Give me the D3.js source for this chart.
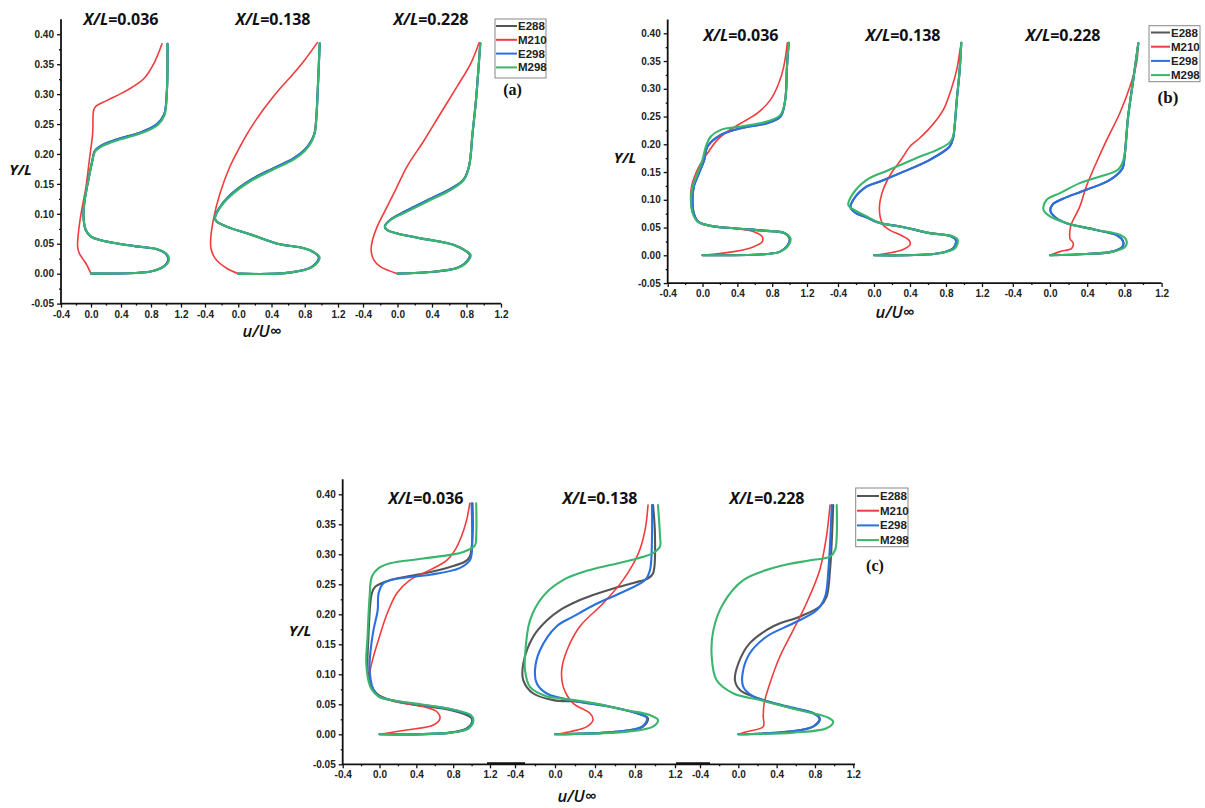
<!DOCTYPE html>
<html><head><meta charset="utf-8">
<script src="https://cdn.jsdelivr.net/npm/d3@7"></script>
<style>body{margin:0;background:#fff} svg{display:block}</style>
</head><body><svg id="c" width="1205" height="808"></svg>
<script>
// ---------- names / ticks ----------
const SERIES = ["E288", "M210", "E298", "M298"];
const COLORS = ["#555555", "#f03c3c", "#2a70e0", "#3ab56c"];
const STATIONS = ["0.036", "0.138", "0.228"];
const PANEL_TAGS = ["(a)", "(b)", "(c)"];
const X_TICKS = [-0.4, 0, 0.4, 0.8, 1.2];
const X_MINOR = [-0.2, 0.2, 0.6, 1.0];
const Y_TICKS = [-0.05, 0, 0.05, 0.10, 0.15, 0.20, 0.25, 0.30, 0.35, 0.40];
const Y_MINOR = [-0.025, 0.025, 0.075, 0.125, 0.175, 0.225, 0.275, 0.325, 0.375, 0.425];

// ---------- data: [u/Uinf, Y/L] ----------
// panel (a)
const A1_M210 = [[0,0],[-0.067,0.017],[-0.156,0.034],[-0.178,0.045],[-0.169,0.067],[-0.133,0.1],[-0.067,0.145],[-0.022,0.19],[0.022,0.2345],[0.036,0.2735],[0.067,0.28],[0.222,0.29],[0.49,0.307],[0.71,0.3265],[0.84,0.3515],[0.947,0.384]];
const A1_E298 = [[0,0],[0.78,0.0033],[0.93,0.009],[1.01,0.017],[1.03,0.026],[0.99,0.034],[0.88,0.041],[0.58,0.046],[0.13,0.056],[0.0,0.062],[-0.07,0.073],[-0.1,0.095],[-0.09,0.118],[-0.035,0.157],[0.02,0.19],[0.05,0.205],[0.13,0.2135],[0.35,0.2245],[0.66,0.236],[0.88,0.25],[0.975,0.266],[1.01,0.301],[1.02,0.346],[1.02,0.384]];
const A1_E288 = A1_E298;
const A1_M298 = [[0,0],[0.78,0.0033],[0.93,0.009],[1.02,0.017],[1.04,0.026],[1.0,0.034],[0.89,0.041],[0.58,0.046],[0.13,0.056],[0.0,0.062],[-0.07,0.073],[-0.1,0.095],[-0.09,0.118],[-0.035,0.157],[0.02,0.19],[0.053,0.204],[0.133,0.212],[0.356,0.223],[0.667,0.2345],[0.89,0.2485],[0.98,0.265],[1.01,0.301],[1.02,0.346],[1.02,0.384]];

const A2_M210 = [[0,0],[-0.14,0.009],[-0.28,0.026],[-0.328,0.042],[-0.332,0.056],[-0.3,0.09],[-0.22,0.134],[-0.1,0.179],[0.02,0.212],[0.1,0.232],[0.2,0.254],[0.3,0.274],[0.4,0.292],[0.5,0.309],[0.65,0.332],[0.8,0.357],[0.95,0.386]];
const A2_E298 = [[0,0],[0.62,0.0017],[0.89,0.0117],[0.97,0.027],[0.89,0.037],[0.74,0.044],[0.5,0.049],[0.14,0.066],[-0.14,0.0786],[-0.26,0.087],[-0.28,0.0925],[-0.24,0.107],[-0.1,0.131],[0.14,0.156],[0.42,0.176],[0.66,0.192],[0.8,0.207],[0.88,0.222],[0.92,0.236],[0.94,0.262],[0.96,0.318],[0.98,0.385]];
const A2_E288 = A2_E298;
const A2_M298 = [[0,0],[0.62,0.0017],[0.9,0.0117],[0.98,0.027],[0.9,0.037],[0.74,0.044],[0.5,0.049],[0.14,0.066],[-0.14,0.0786],[-0.26,0.087],[-0.28,0.0925],[-0.24,0.106],[-0.1,0.129],[0.14,0.154],[0.42,0.174],[0.66,0.19],[0.8,0.205],[0.88,0.22],[0.92,0.2345],[0.94,0.262],[0.96,0.318],[0.98,0.385]];

const A3_M210 = [[0,0],[-0.2,0.0117],[-0.275,0.023],[-0.306,0.0396],[-0.29,0.056],[-0.236,0.0786],[-0.16,0.1008],[-0.043,0.134],[0.11,0.179],[0.31,0.223],[0.5,0.268],[0.69,0.3125],[0.85,0.3515],[0.946,0.386]];
const A3_E298 = [[0,0],[0.42,0.0033],[0.68,0.009],[0.78,0.017],[0.84,0.031],[0.8,0.037],[0.655,0.048],[0.27,0.059],[0.0,0.067],[-0.12,0.073],[-0.147,0.0786],[-0.08,0.0905],[0.11,0.1055],[0.38,0.125],[0.62,0.142],[0.77,0.158],[0.83,0.18],[0.87,0.2345],[0.91,0.29],[0.96,0.385]];
const A3_E288 = A3_E298;
const A3_M298 = [[0,0],[0.42,0.0033],[0.69,0.009],[0.79,0.017],[0.85,0.031],[0.81,0.037],[0.655,0.048],[0.27,0.059],[0.0,0.067],[-0.12,0.073],[-0.147,0.0786],[-0.08,0.0897],[0.11,0.1036],[0.38,0.123],[0.62,0.14],[0.77,0.1566],[0.83,0.179],[0.87,0.2345],[0.91,0.29],[0.96,0.385]];

// panel (b)
const B1_M210 = [[0,0],[0.36,0.0066],[0.59,0.0156],[0.686,0.0246],[0.686,0.0336],[0.59,0.0426],[0.36,0.0486],[0.095,0.053],[-0.02,0.0577],[-0.095,0.07],[-0.133,0.094],[-0.126,0.124],[-0.076,0.148],[-0.02,0.166],[0.057,0.184],[0.17,0.208],[0.286,0.223],[0.44,0.238],[0.63,0.256],[0.78,0.28],[0.876,0.31],[0.933,0.34],[0.975,0.383]];
const B1_E298 = [[0,0],[0.74,0.0024],[0.89,0.0066],[0.98,0.0186],[1.0,0.0306],[0.94,0.04],[0.7,0.0444],[0.36,0.0486],[0.095,0.053],[-0.05,0.0607],[-0.1,0.0757],[-0.115,0.1],[-0.1,0.124],[-0.04,0.148],[0.02,0.172],[0.057,0.196],[0.21,0.217],[0.44,0.229],[0.74,0.238],[0.895,0.25],[0.95,0.28],[0.97,0.34],[0.99,0.383]];
const B1_E288 = B1_E298;
const B1_M298 = [[0,0],[0.74,0.0024],[0.895,0.0066],[0.99,0.0186],[1.01,0.0306],[0.95,0.04],[0.705,0.0444],[0.36,0.0486],[0.095,0.053],[-0.057,0.0607],[-0.114,0.0757],[-0.133,0.1],[-0.114,0.124],[-0.057,0.148],[0.0,0.172],[0.038,0.196],[0.095,0.214],[0.21,0.226],[0.44,0.232],[0.74,0.241],[0.895,0.253],[0.95,0.28],[0.97,0.34],[0.99,0.383]];

const B2_M210 = [[0,0],[0.2,0.005],[0.33,0.011],[0.4,0.019],[0.39,0.027],[0.3,0.036],[0.18,0.045],[0.1,0.055],[0.07,0.068],[0.06,0.085],[0.07,0.1],[0.11,0.122],[0.2,0.15],[0.3,0.172],[0.4,0.196],[0.5,0.21],[0.6,0.226],[0.7,0.245],[0.78,0.265],[0.86,0.3],[0.92,0.335],[0.956,0.37],[0.97,0.383]];
const B2_E298 = [[0,0],[0.72,0.0036],[0.88,0.0126],[0.91,0.027],[0.86,0.034],[0.62,0.04],[0.29,0.052],[0.067,0.058],[-0.08,0.068],[-0.2,0.076],[-0.26,0.086],[-0.23,0.1],[-0.08,0.124],[0.067,0.133],[0.29,0.148],[0.62,0.172],[0.84,0.196],[0.88,0.212],[0.9,0.24],[0.92,0.28],[0.95,0.33],[0.97,0.383]];
const B2_E288 = B2_E298;
const B2_M298 = [[0,0],[0.73,0.0036],[0.9,0.0126],[0.93,0.028],[0.88,0.034],[0.62,0.04],[0.29,0.052],[0.067,0.058],[-0.08,0.07],[-0.2,0.08],[-0.285,0.0907],[-0.23,0.112],[-0.08,0.136],[0.14,0.152],[0.3,0.163],[0.5,0.177],[0.7,0.19],[0.84,0.203],[0.88,0.215],[0.9,0.24],[0.92,0.28],[0.95,0.33],[0.97,0.383]];

const B3_M210 = [[0,0],[0.107,0.0066],[0.233,0.0126],[0.25,0.0216],[0.215,0.03],[0.215,0.0456],[0.233,0.0577],[0.32,0.0877],[0.39,0.124],[0.48,0.16],[0.61,0.208],[0.75,0.256],[0.86,0.304],[0.93,0.346],[0.95,0.382]];
const B3_E298 = [[0,0],[0.39,0.0024],[0.67,0.0066],[0.78,0.0156],[0.785,0.0256],[0.72,0.036],[0.5,0.0456],[0.18,0.0577],[0.06,0.068],[0.005,0.08],[0.03,0.092],[0.14,0.102],[0.39,0.118],[0.645,0.136],[0.78,0.157],[0.8,0.175],[0.84,0.25],[0.89,0.31],[0.95,0.382]];
const B3_E288 = B3_E298;
const B3_M298 = [[0,0],[0.39,0.0024],[0.68,0.0066],[0.81,0.0156],[0.82,0.0276],[0.75,0.037],[0.5,0.0456],[0.18,0.0577],[0.0,0.07],[-0.07,0.082],[-0.036,0.1],[0.107,0.112],[0.32,0.13],[0.54,0.142],[0.73,0.154],[0.79,0.172],[0.84,0.25],[0.89,0.31],[0.95,0.382]];

// panel (c)
const C1_E288 = [[0,0],[0.765,0.0028],[0.946,0.01],[1.0,0.0183],[1.0,0.0267],[0.946,0.032],[0.765,0.0406],[0.4,0.049],[0.115,0.057],[-0.03,0.068],[-0.1,0.085],[-0.13,0.107],[-0.12,0.163],[-0.1,0.218],[-0.083,0.235],[-0.047,0.246],[0.115,0.257],[0.477,0.268],[0.765,0.279],[0.93,0.288],[0.98,0.296],[1.01,0.33],[1.01,0.385]];
const C1_M210 = [[0,0],[0.296,0.0072],[0.585,0.0156],[0.657,0.0267],[0.62,0.038],[0.477,0.046],[0.188,0.054],[-0.03,0.066],[-0.1,0.082],[-0.108,0.1],[-0.065,0.13],[0.0,0.163],[0.08,0.2],[0.188,0.235],[0.33,0.257],[0.55,0.274],[0.73,0.29],[0.82,0.307],[0.89,0.33],[0.946,0.357],[0.98,0.385]];
const C1_E298 = [[0,0],[0.77,0.0028],[0.96,0.01],[1.01,0.021],[1.0,0.03],[0.95,0.034],[0.77,0.042],[0.4,0.05],[0.1,0.058],[0.007,0.062],[-0.065,0.074],[-0.108,0.107],[-0.1,0.135],[-0.065,0.174],[-0.02,0.207],[-0.01,0.235],[0.043,0.252],[0.224,0.26],[0.55,0.266],[0.87,0.277],[0.98,0.29],[1.0,0.3],[1.0,0.385]];
const C1_M298 = [[0,0],[0.78,0.0028],[0.97,0.01],[1.02,0.024],[0.99,0.032],[0.8,0.041],[0.45,0.05],[0.115,0.057],[-0.01,0.063],[-0.1,0.079],[-0.144,0.118],[-0.13,0.163],[-0.108,0.229],[-0.083,0.263],[-0.01,0.277],[0.115,0.285],[0.477,0.293],[0.91,0.304],[1.036,0.315],[1.05,0.33],[1.05,0.385]];

const C2_E288 = [[0,0],[0.6,0.004],[0.88,0.0128],[0.93,0.0267],[0.82,0.035],[0.55,0.046],[0.25,0.054],[-0.017,0.057],[-0.217,0.068],[-0.317,0.09],[-0.317,0.118],[-0.217,0.163],[-0.08,0.19],[0.05,0.207],[0.2,0.22],[0.38,0.232],[0.6,0.244],[0.8,0.253],[0.93,0.26],[0.98,0.268],[1.0,0.33],[0.98,0.382]];
const C2_M210 = [[0,0],[0.15,0.0044],[0.32,0.0128],[0.38,0.024],[0.35,0.035],[0.18,0.052],[0.083,0.079],[0.067,0.107],[0.12,0.14],[0.25,0.18],[0.48,0.218],[0.68,0.257],[0.83,0.3],[0.9,0.34],[0.93,0.382]];
const C2_E298 = [[0,0],[0.6,0.004],[0.87,0.0128],[0.92,0.0267],[0.82,0.035],[0.55,0.046],[0.25,0.054],[-0.083,0.068],[-0.183,0.085],[-0.2,0.107],[-0.15,0.14],[0.017,0.18],[0.18,0.196],[0.42,0.218],[0.65,0.235],[0.9,0.257],[0.95,0.274],[0.97,0.33],[0.97,0.382]];
const C2_M298 = [[0,0],[0.72,0.0044],[0.98,0.0128],[1.03,0.024],[0.95,0.032],[0.72,0.04],[0.38,0.052],[0.05,0.06],[-0.08,0.063],[-0.25,0.079],[-0.3,0.107],[-0.3,0.13],[-0.25,0.19],[-0.12,0.23],[0.08,0.257],[0.35,0.274],[0.55,0.282],[0.82,0.293],[0.98,0.302],[1.05,0.313],[1.05,0.33],[1.03,0.382]];

const C3_E288 = [[0,0],[0.5,0.004],[0.78,0.0128],[0.85,0.0267],[0.78,0.035],[0.5,0.046],[0.157,0.063],[0.017,0.074],[-0.035,0.09],[0.0,0.118],[0.12,0.152],[0.365,0.18],[0.64,0.196],[0.85,0.213],[0.92,0.229],[0.957,0.274],[0.99,0.382]];
const C3_M210 = [[0,0],[0.087,0.0044],[0.26,0.0128],[0.26,0.03],[0.27,0.052],[0.33,0.085],[0.435,0.13],[0.574,0.174],[0.71,0.218],[0.85,0.274],[0.92,0.33],[0.957,0.382]];
const C3_E298 = [[0,0],[0.5,0.004],[0.78,0.0128],[0.85,0.024],[0.8,0.034],[0.5,0.047],[0.157,0.063],[0.052,0.079],[0.045,0.102],[0.12,0.135],[0.296,0.163],[0.574,0.185],[0.82,0.207],[0.905,0.229],[0.94,0.274],[0.975,0.382]];
const C3_M298 = [[0,0],[0.574,0.0028],[0.92,0.01],[0.99,0.021],[0.92,0.029],[0.64,0.04],[0.226,0.057],[-0.05,0.068],[-0.226,0.09],[-0.278,0.13],[-0.26,0.174],[-0.157,0.218],[0.052,0.257],[0.4,0.279],[0.75,0.29],[0.957,0.296],[1.01,0.307],[1.027,0.33],[1.027,0.382]];

// per panel: station -> [E288, M210, E298, M298]
const PANEL_A = [[A1_E288, A1_M210, A1_E298, A1_M298], [A2_E288, A2_M210, A2_E298, A2_M298], [A3_E288, A3_M210, A3_E298, A3_M298]];
const PANEL_B = [[B1_E288, B1_M210, B1_E298, B1_M298], [B2_E288, B2_M210, B2_E298, B2_M298], [B3_E288, B3_M210, B3_E298, B3_M298]];
const PANEL_C = [[C1_E288, C1_M210, C1_E298, C1_M298], [C2_E288, C2_M210, C2_E298, C2_M298], [C3_E288, C3_M210, C3_E298, C3_M298]];

// ---------- layout ----------
const LAYOUT = [
  {data: PANEL_A, axisX: 61, yBot: 303.6, yTop: 19.3, segs: [[61,181],[205,338],[363,501]], axisEnd: 501,
   titleX: [121,273,431], titleY: 25, ylab: [20.5,175], xlab: [262,337],
   leg: {x:495, y:19, w:51, h:59, row0:26, dy:13.8, lx0:496, lx1:517, tx:518}, tag: [512.5,95,16], thick: []},
  {data: PANEL_B, axisX: 667.7, yBot: 283.05, yTop: 19.4, segs: [[667.7,807],[838,982],[1012.8,1161.6]], axisEnd: 1161.6,
   titleX: [741,903,1063], titleY: 40.7, ylab: [625,163], xlab: [895,318],
   leg: {x:1149, y:25.7, w:51, h:56, row0:32.5, dy:14.2, lx0:1151, lx1:1170, tx:1171}, tag: [1168,103,17], thick: []},
  {data: PANEL_C, axisX: 342.7, yBot: 764.3, yTop: 479.3, segs: [[342.7,490],[515,675],[700,853.3]], axisEnd: 855,
   titleX: [426,600,767], titleY: 504, ylab: [300,636], xlab: [577,801.5],
   leg: {x:855.7, y:488, w:52.3, h:58.7, row0:496, dy:14.7, lx0:857, lx1:879, tx:880}, tag: [875,571,16], thick: [[487,525],[676,710]]}
];

const svg = d3.select("#c");
const SANS = "'Liberation Sans', Arial, sans-serif";
const OPEN = "'Open Sans', 'DejaVu Sans', sans-serif";

LAYOUT.forEach((p, pi) => {
  const g = svg.append("g");
  const y = d3.scaleLinear().domain([-0.05, 0.425]).range([p.yBot, p.yTop]);

  // y axis
  const ya = g.append("g").attr("transform", `translate(${p.axisX},0)`)
    .call(d3.axisLeft(y).tickValues(Y_TICKS).tickFormat(d => d.toFixed(2)).tickSize(4).tickSizeOuter(0));
  const ym = g.append("g").attr("transform", `translate(${p.axisX},0)`)
    .call(d3.axisLeft(y).tickValues(Y_MINOR.filter(v => v < 0.42)).tickFormat("").tickSize(2).tickSizeOuter(0));
  [ya, ym].forEach(a => { a.select(".domain").remove(); a.selectAll("line").attr("stroke", "#111").attr("stroke-width", 1.3); });
  ya.selectAll("text").attr("font-family", SANS).attr("font-weight", "bold").attr("font-size", 10).attr("fill", "#222");

  // x axes per station
  const xs = p.segs.map(r => d3.scaleLinear().domain([-0.4, 1.2]).range(r));
  xs.forEach(x => {
    const xa = g.append("g").attr("transform", `translate(0,${p.yBot})`)
      .call(d3.axisBottom(x).tickValues(X_TICKS).tickFormat(d => d.toFixed(1)).tickSize(4).tickSizeOuter(0));
    const xm = g.append("g").attr("transform", `translate(0,${p.yBot})`)
      .call(d3.axisBottom(x).tickValues(X_MINOR).tickFormat("").tickSize(2).tickSizeOuter(0));
    [xa, xm].forEach(a => { a.select(".domain").remove(); a.selectAll("line").attr("stroke", "#111").attr("stroke-width", 1.3); });
    xa.selectAll("text").attr("font-family", SANS).attr("font-weight", "bold").attr("font-size", 10).attr("fill", "#222");
  });

  // axis lines
  g.append("line").attr("x1", p.axisX).attr("x2", p.axisX).attr("y1", p.yBot + 0.8).attr("y2", p.yTop)
    .attr("stroke", "#111").attr("stroke-width", 1.8);
  g.append("line").attr("x1", p.axisX).attr("x2", p.axisEnd).attr("y1", p.yBot).attr("y2", p.yBot)
    .attr("stroke", "#111").attr("stroke-width", 1.8);
  p.thick.forEach(t => g.append("line").attr("x1", t[0]).attr("x2", t[1]).attr("y1", p.yBot - 0.8).attr("y2", p.yBot - 0.8)
    .attr("stroke", "#111").attr("stroke-width", 2.6));

  // curves
  p.data.forEach((station, si) => {
    const x = xs[si];
    const line = d3.line().x(d => x(d[0])).y(d => y(d[1])).curve(d3.curveCatmullRom.alpha(0.5));
    station.forEach((pts, k) => {
      g.append("path").attr("d", line(pts)).attr("fill", "none")
        .attr("stroke", COLORS[k]).attr("stroke-width", k === 1 ? 1.6 : 2.1)
        .attr("stroke-linejoin", "round").attr("stroke-linecap", "round");
    });
    // title
    const t = g.append("text").attr("x", p.titleX[si]).attr("y", p.titleY).attr("text-anchor", "middle")
      .attr("font-family", OPEN).attr("font-weight", "bold").attr("font-size", 16).attr("fill", "#111");
    t.append("tspan").attr("font-style", "italic").text("X/L");
    t.append("tspan").text("=" + STATIONS[si]);
  });

  // axis titles
  g.append("text").attr("x", p.ylab[0]).attr("y", p.ylab[1]).attr("text-anchor", "middle")
    .attr("font-family", OPEN).attr("font-weight", "bold").attr("font-style", "italic").attr("font-size", 15)
    .attr("fill", "#111").text("Y/L");
  g.append("text").attr("x", p.xlab[0]).attr("y", p.xlab[1]).attr("text-anchor", "middle")
    .attr("font-family", OPEN).attr("font-weight", "600").attr("font-style", "italic").attr("font-size", 16.5)
    .attr("fill", "#111").text("u/U\u221E");

  // legend
  const L = p.leg;
  g.append("rect").attr("x", L.x).attr("y", L.y).attr("width", L.w).attr("height", L.h)
    .attr("fill", "#fff").attr("stroke", "#888").attr("stroke-width", 1);
  SERIES.forEach((s, k) => {
    const yy = L.row0 + k * L.dy;
    g.append("line").attr("x1", L.lx0).attr("x2", L.lx1).attr("y1", yy).attr("y2", yy)
      .attr("stroke", COLORS[k]).attr("stroke-width", 2);
    g.append("text").attr("x", L.tx).attr("y", yy + 4).attr("font-family", SANS).attr("font-weight", "bold")
      .attr("font-size", 11.5).attr("fill", "#222").text(s);
  });
  g.append("text").attr("x", p.tag[0]).attr("y", p.tag[1]).attr("text-anchor", "middle")
    .attr("font-family", "'Liberation Serif', 'Times New Roman', serif").attr("font-weight", "bold")
    .attr("font-size", p.tag[2]).attr("fill", "#111").text(PANEL_TAGS[pi]);
});
</script></body></html>
